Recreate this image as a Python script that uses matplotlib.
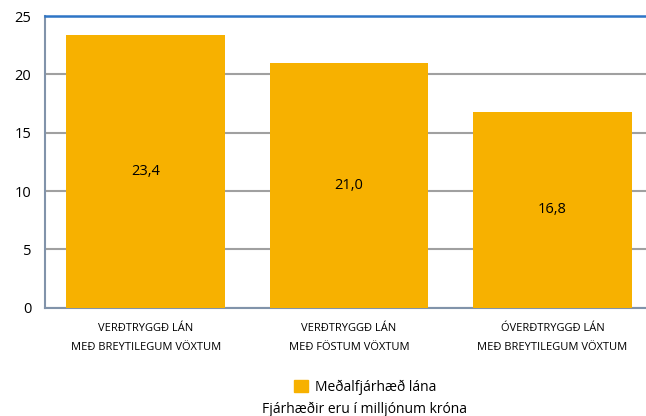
import matplotlib.pyplot as plt
from matplotlib.patches import Patch

categories = ['VERÐTRYGGÐ LÁN\nMEÐ BREYTILEGUM VÖXTUM',
              'VERÐTRYGGÐ LÁN\nMEÐ FÖSTUM VÖXTUM',
              'ÓVERÐTRYGGÐ LÁN\nMEÐ BREYTILEGUM VÖXTUM']
values = [23.4, 21.0, 16.8]
yticks = [0, 5, 10, 15, 20, 25]

plt.rcParams['font.family'] = ['Open Sans', 'DejaVu Sans']

fig = plt.figure(figsize=(6.46, 4.16), dpi=100)
ax = fig.add_axes([0.0697, 0.26, 0.9303, 0.7015])

x = range(len(values))
bars = ax.bar(x, values, width=0.78, color='#F7B100', zorder=3)
for i, v in enumerate(values):
    ax.text(i, v / 2, f'{v:.1f}'.replace('.', ','), ha='center', va='center',
            fontsize=10.5, color='black', zorder=4)

ax.set_ylim(0, 25)
ax.set_xlim(-0.495, 2.46)
ax.set_yticks(yticks)
ax.set_yticklabels([str(t) for t in yticks], fontsize=10.5)
ax.set_xticks(list(x))
ax.set_xticklabels(categories, fontsize=8, linespacing=2.0)
ax.tick_params(axis='both', length=0)
ax.tick_params(axis='y', pad=10)
ax.tick_params(axis='x', pad=11)
ax.yaxis.grid(True, color='#A0A0A0', linewidth=1.5, zorder=0)

ax.spines['right'].set_visible(False)
ax.spines['top'].set_color('#2E75C6')
ax.spines['top'].set_linewidth(1.8)
ax.spines['left'].set_color('#8193AA')
ax.spines['left'].set_linewidth(1.5)
ax.spines['bottom'].set_color('#8193AA')
ax.spines['bottom'].set_linewidth(1.5)

fig.legend(handles=[Patch(color='#F7B100', label='Meðalfjárhæð lána')],
           loc='center', bbox_to_anchor=(0.565, 0.07), frameon=False,
           fontsize=10, handlelength=1.0, handleheight=1.0, handletextpad=0.5)
fig.text(0.565, 0.016, 'Fjárhæðir eru í milljónum króna', ha='center', va='center', fontsize=10)

fig.savefig('out.png', dpi=100)
